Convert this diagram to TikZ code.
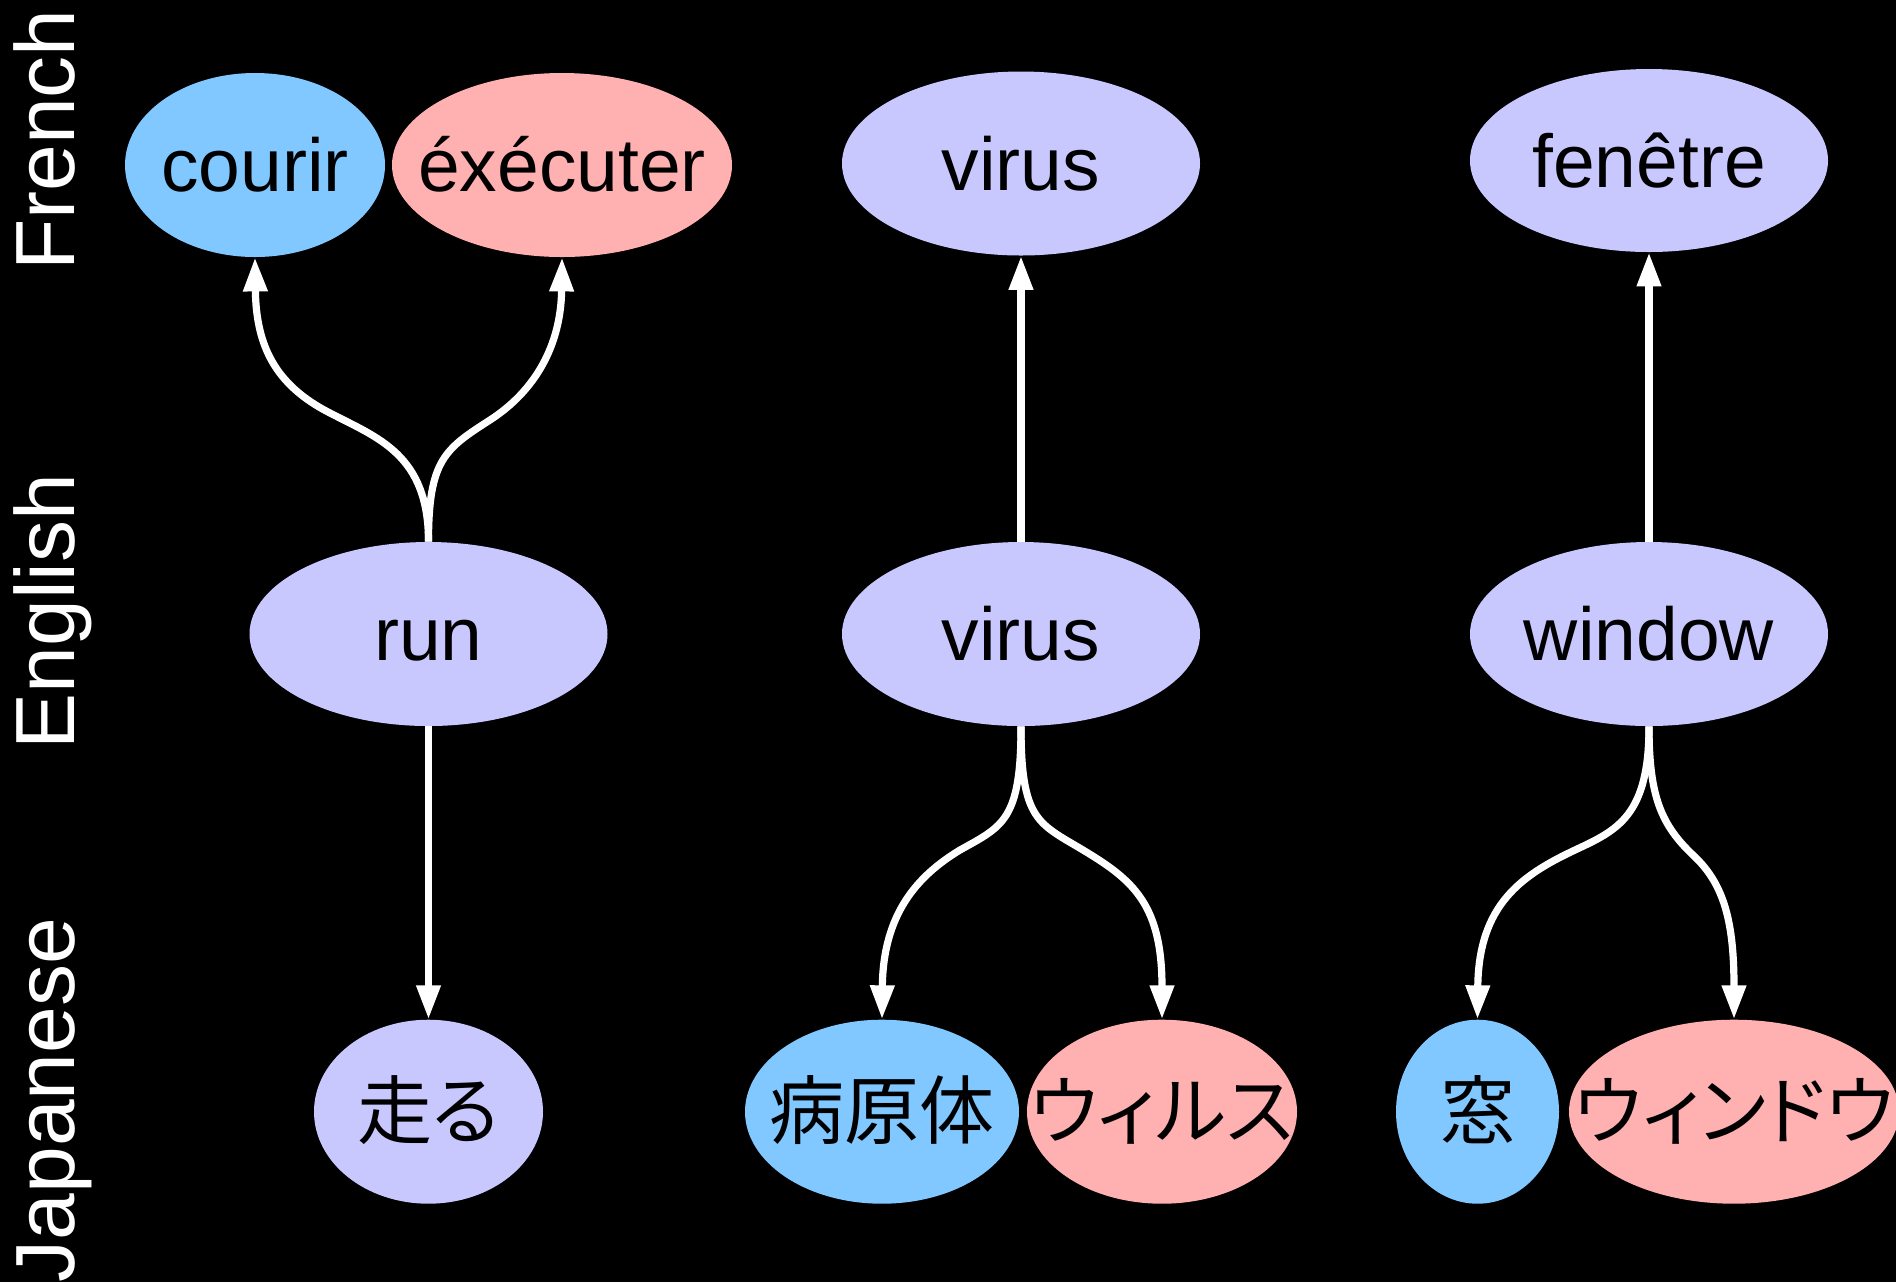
\documentclass[tikz,border=0pt]{standalone}
\usepackage{fontspec}
\setmainfont{Liberation Sans}
\newfontfamily\jpfont[RawFeature=+palt]{Noto Sans CJK JP}
\usetikzlibrary{shapes.geometric,arrows.meta}
\definecolor{lav}{RGB}{200,200,255}
\definecolor{sky}{RGB}{128,200,255}
\definecolor{rose}{RGB}{255,176,176}
\begin{document}
\begin{tikzpicture}[x=0.5pt,y=-0.5pt,
  word/.style={ellipse, draw=none, inner sep=0pt, text height=26.85pt, text depth=0pt,
    font=\fontsize{37.5}{45}\selectfont, text=black},
  arr/.style={draw=white, line width=3.6pt, -{Triangle[length=17pt,width=11.5pt]}},
  lang/.style={rotate=90, anchor=base, inner sep=0pt, text=white,
    font=\fontsize{42}{50}\selectfont}]
\fill[black] (0,0) rectangle (1896,1282);
\useasboundingbox (0,0) rectangle (1896,1282);

% language labels
\node[lang] (lfr) at (74,140) {French};
\node[lang] (len) at (74,611.5) {English};
\node[lang] (ljp) at (74,1100) {Japanese};

% French row
\node[word, fill=sky,  minimum width=130pt, minimum height=92pt] (courir)  at (255,165) {\makebox[0pt]{courir}};
\node[word, fill=rose, minimum width=170pt, minimum height=92pt] (execute) at (562,165) {\makebox[0pt]{éxécuter}};
\node[word, fill=lav,  minimum width=179pt, minimum height=92pt] (virusFr) at (1021,163.5) {\makebox[0pt]{virus}};
\node[word, fill=lav,  minimum width=179pt, minimum height=91.5pt] (fenetre) at (1649,160.5) {\makebox[0pt]{fenêtre}};

% English row
\node[word, fill=lav, minimum width=179pt, minimum height=92pt] (run)     at (428.5,634) {\makebox[0pt]{run}};
\node[word, fill=lav, minimum width=179pt, minimum height=92pt] (virusEn) at (1021,634) {\makebox[0pt]{virus}};
\node[word, fill=lav, minimum width=179pt, minimum height=92pt] (window)  at (1649,634) {\makebox[0pt]{window}};

% Japanese row
\node[word, fill=lav,  minimum width=114.5pt, minimum height=92pt] (hashiru)   at (428.5,1111.7) {\makebox[0pt]{\jpfont 走る}};
\node[word, fill=sky,  minimum width=137pt,   minimum height=92pt] (byogentai) at (882,1111.7) {\makebox[0pt]{\jpfont 病原体}};
\node[word, fill=rose, minimum width=135pt,   minimum height=92pt] (uirusu)    at (1162,1111.7) {\makebox[0pt]{\jpfont ウィルス}};
\node[word, fill=sky,  minimum width=81.5pt,  minimum height=92pt] (mado)      at (1477.5,1111.7) {\makebox[0pt]{\jpfont 窓}};
\node[word, fill=rose, minimum width=165pt,   minimum height=92pt] (uindou)    at (1734,1111.7) {\makebox[0pt]{\jpfont ウィンドウ}};

% bend points
\coordinate (m1) at (330,413);
\coordinate (m2) at (490,420);
\coordinate (m3) at (960,850);
\coordinate (m4) at (1083,850);
\coordinate (m5) at (1575,850);
\coordinate (m6) at (1694,856);

% connectors
\draw[arr] (run.north) .. controls +(0,-87) and +(48,25) .. (m1)
  .. controls +(-55,-28) and +(1,88) .. (courir.south);
\draw[arr] (run.north) .. controls +(0,-82) and +(-45,29) .. (m2)
  .. controls +(45,-29) and +(-1,88) .. (execute.south);
\draw[arr] (virusEn.north) -- (virusFr.south);
\draw[arr] (window.north) -- (fenetre.south);

\draw[arr] (run.south) -- (hashiru.north);
\draw[arr] (virusEn.south) .. controls +(0,94) and +(43,-24) .. (m3)
  .. controls +(-43,26) and +(1,-105) .. (byogentai.north);
\draw[arr] (virusEn.south) .. controls +(0,94) and +(-45,-27) .. (m4)
  .. controls +(50,30) and +(0,-115) .. (uirusu.north);
\draw[arr] (window.south) .. controls +(0,89) and +(43,-20) .. (m5)
  .. controls +(-53,25) and +(1,-115) .. (mado.north);
\draw[arr] (window.south) .. controls +(0,70) and +(-33,-31) .. (m6)
  .. controls +(31,29) and +(0,-95) .. (uindou.north);
\end{tikzpicture}
\end{document}
